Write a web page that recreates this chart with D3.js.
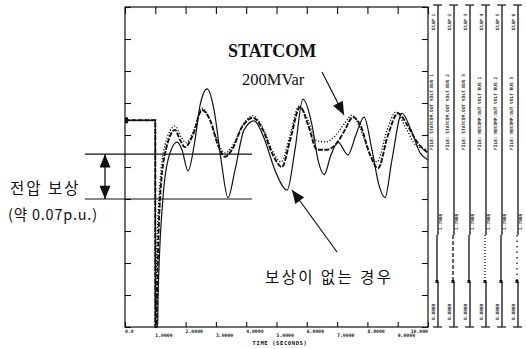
<!DOCTYPE html>
<html>
<head>
<meta charset="utf-8">
<script src="https://cdn.jsdelivr.net/npm/d3@7"></script>
<style>
  body { margin: 0; background: #fff; }
  svg { display: block; }
</style>
</head>
<body>
<svg id="chart" width="526" height="349"></svg>
<script>
// time axis (s) and voltage (p.u.)
const timeTicks = [0, 1, 2, 3, 4, 5, 6, 7, 8, 9, 10];
const tickLabels = ["0.0", "1.0000", "2.0000", "3.0000", "4.0000", "5.0000",
                    "6.0000", "7.0000", "8.0000", "9.0000", "10.000"];

// no compensation (solid)
const tNone = [0, 0.99, 1.0, 1.001, 1.08, 1.09, 1.25, 1.42, 1.72, 1.88, 2.08, 2.31, 2.48, 2.71, 2.94,
  3.17, 3.40, 3.63, 3.93, 4.26, 4.59, 4.95, 5.35, 5.61, 5.87, 6.17, 6.37, 6.57, 6.80, 7.03,
  7.36, 7.62, 7.89, 8.15, 8.38, 8.58, 8.81, 9.14, 9.44, 9.74, 10.0];
const vNone = [0.823, 0.823, 0.823, 0.5, 0.5, 0.542, 0.700, 0.761, 0.789, 0.777, 0.744, 0.792, 0.847, 0.872, 0.839,
  0.761, 0.702, 0.745, 0.808, 0.822, 0.795, 0.745, 0.714, 0.777, 0.856, 0.816, 0.761, 0.738, 0.769, 0.789,
  0.769, 0.800, 0.828, 0.777, 0.722, 0.702, 0.761, 0.834, 0.808, 0.772, 0.761];

// STATCOM 200MVar (dashed)
const tStat = [0, 0.99, 1.0, 1.001, 1.04, 1.056, 1.155, 1.35, 1.65, 1.82, 1.98, 2.24, 2.54, 2.81, 3.07,
  3.30, 3.53, 3.86, 4.22, 4.55, 4.88, 5.18, 5.45, 5.78, 6.04, 6.34, 6.67, 7.00, 7.26, 7.52,
  7.76, 8.09, 8.35, 8.68, 9.01, 9.31, 9.64, 10.0];
const vStat = [0.823, 0.823, 0.823, 0.5, 0.5, 0.542, 0.700, 0.777, 0.808, 0.792, 0.781, 0.800, 0.839, 0.823, 0.784,
  0.766, 0.777, 0.812, 0.827, 0.808, 0.769, 0.750, 0.792, 0.844, 0.816, 0.777, 0.777, 0.788, 0.808, 0.828,
  0.816, 0.769, 0.748, 0.800, 0.834, 0.816, 0.789, 0.772];

// second compensated case (dotted)
const tDot = [0, 0.99, 1.0, 1.001, 1.01, 1.02, 1.12, 1.32, 1.65, 1.85, 2.01, 2.28, 2.54, 2.84, 3.07,
  3.30, 3.56, 3.89, 4.22, 4.55, 4.85, 5.15, 5.45, 5.74, 6.04, 6.30, 6.63, 6.96, 7.26, 7.49,
  7.76, 8.05, 8.32, 8.65, 8.94, 9.27, 9.60, 10.0];
const vDot = [0.823, 0.823, 0.823, 0.5, 0.5, 0.542, 0.700, 0.784, 0.814, 0.797, 0.788, 0.808, 0.842, 0.820, 0.788,
  0.772, 0.784, 0.816, 0.830, 0.811, 0.777, 0.758, 0.800, 0.845, 0.823, 0.792, 0.789, 0.800, 0.819, 0.831,
  0.811, 0.773, 0.758, 0.808, 0.836, 0.811, 0.784, 0.777];

// compensation band
const bandLevels = [0.77, 0.70];

// legend strip texts (rotated, hardly legible in the scan)
const stripTop = ["ECAP 1", "ECAP 2", "ECAP 3", "ECAP 4", "ECAP 5", "ECAP 6"];
const stripMid = ["FILE: STATCOM.OUT  VOLT BUS 1", "FILE: STATCOM.OUT  VOLT BUS 2",
  "FILE: STATCOM.OUT  VOLT BUS 3", "FILE: NOCOMP.OUT  VOLT BUS 1",
  "FILE: NOCOMP.OUT  VOLT BUS 2", "FILE: NOCOMP.OUT  VOLT BUS 3"];
const stripLow = ["1.7000", "1.7000", "1.7000", "1.7000", "1.7000", "1.7000"];
const stripBot = ["0.0000", "0.0000", "0.0000", "0.0000", "0.0000", "0.0000"];

const svg = d3.select("#chart");
const ink = "#111";

const x = d3.scaleLinear().domain([0, 10]).range([125, 428]);
const y = d3.scaleLinear().domain([0.5, 1.0]).range([327, 7]);
const yTicks = d3.range(0, 11).map(i => 0.5 + i * 0.05);

// frame
svg.append("rect")
  .attr("x", x(0)).attr("y", y(1.0))
  .attr("width", x(10) - x(0)).attr("height", y(0.5) - y(1.0))
  .attr("fill", "none").attr("stroke", ink).attr("stroke-width", 1.2);

function styleAxis(g) {
  g.select(".domain").remove();
  g.selectAll("line").attr("stroke", ink).attr("stroke-width", 1.1);
}

svg.append("g").attr("transform", `translate(0,${y(0.5)})`)
  .call(d3.axisBottom(x).tickValues(timeTicks).tickSize(-5).tickFormat(""))
  .call(styleAxis);
svg.append("g").attr("transform", `translate(0,${y(1.0)})`)
  .call(d3.axisTop(x).tickValues(timeTicks).tickSize(-7).tickFormat(""))
  .call(styleAxis);
svg.append("g").attr("transform", `translate(${x(0)},0)`)
  .call(d3.axisLeft(y).tickValues(yTicks).tickSize(-6).tickFormat(""))
  .call(styleAxis);
svg.append("g").attr("transform", `translate(${x(10)},0)`)
  .call(d3.axisRight(y).tickValues(yTicks).tickSize(-6).tickFormat(""))
  .call(styleAxis);

// tick labels, staggered like the plotter output
svg.append("g").selectAll("text")
  .data(timeTicks)
  .join("text")
  .attr("x", d => x(d))
  .attr("y", (d, i) => y(0.5) + (i % 2 ? 10 : 5.5))
  .attr("text-anchor", (d, i) => i === timeTicks.length - 1 ? "end" : "start")
  .attr("font-family", "DejaVu Sans Mono")
  .attr("font-weight", "bold")
  .attr("font-size", 4.8)
  .attr("fill", ink)
  .text((d, i) => tickLabels[i]);

svg.append("text")
  .attr("x", 280).attr("y", 345)
  .attr("text-anchor", "middle")
  .attr("font-family", "DejaVu Sans Mono")
  .attr("font-weight", "bold")
  .attr("font-size", 5.5)
  .attr("letter-spacing", 0.6)
  .attr("fill", ink)
  .text("TIME  (SECONDS)");

// curves
const line = d3.line().x(d => x(d[0])).y(d => y(d[1])).curve(d3.curveMonotoneX);
const series = [
  { t: tNone, v: vNone, w: 1.2, dash: null },
  { t: tDot, v: vDot, w: 1.3, dash: "1.2,1.8" },
  { t: tStat, v: vStat, w: 1.9, dash: "5,1.5" }
];
series.forEach(s => {
  svg.append("path")
    .datum(s.t.map((t, i) => [t, s.v[i]]))
    .attr("d", line)
    .attr("fill", "none")
    .attr("stroke", ink)
    .attr("stroke-width", s.w)
    .attr("stroke-dasharray", s.dash);
});

// start marker
svg.append("rect")
  .attr("x", x(0)).attr("y", y(0.823) - 3)
  .attr("width", 3).attr("height", 6).attr("fill", ink);

// compensation band lines
svg.append("g").selectAll("line")
  .data(bandLevels)
  .join("line")
  .attr("x1", 85).attr("x2", 252)
  .attr("y1", d => y(d)).attr("y2", d => y(d))
  .attr("stroke", ink).attr("stroke-width", 1.2);

// arrowheads
const defs = svg.append("defs");
defs.append("marker")
  .attr("id", "head")
  .attr("viewBox", "0 0 12 10")
  .attr("refX", 12).attr("refY", 5)
  .attr("markerUnits", "userSpaceOnUse")
  .attr("markerWidth", 14).attr("markerHeight", 11)
  .attr("orient", "auto-start-reverse")
  .append("path").attr("d", "M0,0 L12,5 L0,10 Z").attr("fill", ink);

svg.append("line")
  .attr("x1", 105).attr("x2", 105)
  .attr("y1", y(bandLevels[0])).attr("y2", y(bandLevels[1]))
  .attr("stroke", ink).attr("stroke-width", 1.3)
  .attr("marker-start", "url(#head)").attr("marker-end", "url(#head)");

svg.append("line")
  .attr("x1", 322).attr("y1", 72).attr("x2", 344).attr("y2", 115)
  .attr("stroke", ink).attr("stroke-width", 1.2)
  .attr("marker-end", "url(#head)");

svg.append("line")
  .attr("x1", 337).attr("y1", 252).attr("x2", 292).attr("y2", 190)
  .attr("stroke", ink).attr("stroke-width", 1.2)
  .attr("marker-end", "url(#head)");

// annotations
svg.append("text")
  .attr("x", 228).attr("y", 57)
  .attr("font-family", "Liberation Serif").attr("font-weight", "bold")
  .attr("font-size", 18).attr("fill", ink)
  .text("STATCOM");
svg.append("text")
  .attr("x", 242).attr("y", 85)
  .attr("font-family", "Liberation Serif")
  .attr("font-size", 16.5).attr("fill", ink)
  .text("200MVar");

const kr = "'Noto Sans CJK KR', sans-serif";
svg.append("text")
  .attr("x", 265).attr("y", 283)
  .attr("font-family", kr).attr("font-size", 15.5)
  .attr("letter-spacing", 2.4).attr("fill", ink)
  .text("보상이 없는 경우");
svg.append("text")
  .attr("x", 10).attr("y", 194)
  .attr("font-family", kr).attr("font-size", 15.5)
  .attr("letter-spacing", 2).attr("fill", ink)
  .text("전압 보상");
svg.append("text")
  .attr("x", 8).attr("y", 220)
  .attr("font-family", kr).attr("font-size", 14.5)
  .attr("letter-spacing", 0.8).attr("fill", ink)
  .text("(약 0.07p.u.)");

// legend strips at the right
const stripX = [438, 454, 470, 486, 502, 518];
const sampleDash = [null, "4,2", null, "1,2", null, "1.5,4"];
const strips = svg.append("g").selectAll("g")
  .data(stripX)
  .join("g")
  .attr("transform", d => `translate(${d},0)`);

strips.append("line").attr("x1", 0).attr("x2", 0).attr("y1", 5).attr("y2", 235)
  .attr("stroke", ink).attr("stroke-width", 1.3);
strips.append("line").attr("x1", 0).attr("x2", 0).attr("y1", 282).attr("y2", 327)
  .attr("stroke", ink).attr("stroke-width", 1.3);
strips.append("line").attr("x1", -1).attr("x2", -1).attr("y1", 235).attr("y2", 282)
  .attr("stroke", ink).attr("stroke-width", 1.3)
  .attr("stroke-dasharray", (d, i) => sampleDash[i]);
strips.append("line").attr("x1", -5).attr("x2", 4).attr("y1", 5).attr("y2", 5)
  .attr("stroke", ink).attr("stroke-width", 1.2);
strips.append("line").attr("x1", -5).attr("x2", 4).attr("y1", 327).attr("y2", 327)
  .attr("stroke", ink).attr("stroke-width", 1.2);
strips.append("rect").attr("x", -2.5).attr("y", 280).attr("width", 3).attr("height", 3)
  .attr("fill", ink);

function stripText(list, yPos, dx) {
  strips.append("text")
    .attr("transform", `translate(${dx},${yPos}) rotate(-90)`)
    .attr("font-family", "DejaVu Sans Mono").attr("font-weight", "bold")
    .attr("font-size", 4.5).attr("fill", "#333")
    .text((d, i) => list[i]);
}
stripText(stripTop, 30, -3);
stripText(stripMid, 150, -5);
stripText(stripLow, 230, 4);
stripText(stripBot, 320, -3);
</script>
</body>
</html>
